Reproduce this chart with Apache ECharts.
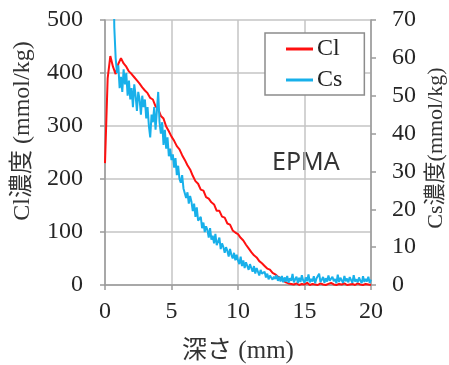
<!DOCTYPE html>
<html>
<head>
<meta charset="utf-8">
<script src="https://cdn.jsdelivr.net/npm/echarts@6/dist/echarts.min.js"></script>
<style>
  html, body { margin: 0; padding: 0; background: #fff; }
  #chart { width: 449px; height: 365px; }
</style>
</head>
<body>
<div id="chart"></div>
<script>
// Depth profiles measured by EPMA: Cl sampled every 0.2 mm, Cs every 0.1 mm.
const clStep = 0.2;
const csStep = 0.1;

// Cl concentration (mmol/kg), depth 0.0 – 20.0 mm
const clValues = [
  230, 390, 432, 412, 398, 417, 428, 418, 412, 403,   // 0.0 – 1.8
  398, 392, 386, 380, 373, 367, 362, 353, 350, 337,   // 2.0 – 3.8
  332, 319, 314, 299, 290, 280, 272, 262, 256, 245,   // 4.0 – 5.8
  236, 226, 218, 206, 196, 191, 180, 178, 166, 163,   // 6.0 – 7.8
  156, 152, 140, 140, 129, 127, 116, 114, 103, 99,    // 8.0 – 9.8
  96, 89, 84, 76, 69, 62, 56, 52, 45, 41,             // 10.0 – 11.8
  36, 31, 29, 23, 20, 16, 13, 8, 5, 3,                // 12.0 – 13.8
  2, 1, 3, 0, 2, 1, 4, 0, 2, 1,                       // 14.0 – 15.8
  0, 3, 1, 0, 2, 4, 1, 0, 2, 1,                       // 16.0 – 17.8
  3, 0, 1, 2, 0, 3, 1, 0, 2, 1,                       // 18.0 – 19.8
  0                                                   // 20.0
];

// Cs concentration (mmol/kg), depth 0.0 – 20.0 mm (null: no reading near the surface)
const csValues = [
  null, null, null, null, null, null, 90, 68, 60, 56,          // 0.0 – 0.9
  58, 52, 55, 51, 57, 53, 56, 50, 54, 49,                      // 1.0 – 1.9
  52, 47, 53, 50, 46, 51, 49, 45, 50, 47,                      // 2.0 – 2.9
  49, 44, 47, 42, 39, 45, 43, 47, 41, 46,                      // 3.0 – 3.9
  51, 43, 40, 43, 37, 41, 36, 39, 34, 36,                      // 4.0 – 4.9
  33, 34.5, 31, 33.5, 29, 31.5, 28, 27, 29, 25.5,              // 5.0 – 5.9
  26, 23, 24.5, 21.5, 23.5, 22, 19.5, 21.5, 18, 20.5,          // 6.0 – 6.9
  17, 16.5, 18, 15, 16.5, 14, 15.5, 14.5, 12.5, 15,            // 7.0 – 7.9
  12, 13, 11, 13.5, 10.5, 11.5, 12.5, 9.5, 11, 10,             // 8.0 – 8.9
  8.5, 10, 9, 7.5, 9.5, 8, 7, 8.5, 6.5, 8,                     // 9.0 – 9.9
  6.5, 5.5, 7.5, 5, 6.5, 4.5, 6, 5.5, 4, 5.5,                  // 10.0 – 10.9
  4.5, 3.5, 5, 3, 4.5, 3.5, 2.5, 4, 3, 2.5,                    // 11.0 – 11.9
  3.5, 2, 3, 1.5, 2.5, 2.8, 1.4, 2.2, 1.6, 2.6,                // 12.0 – 12.9
  1.1, 2.2, 0.9, 2.4, 0.7, 2.0, 0.9, 2.4, 0.6, 1.8,            // 13.0 – 13.9
  1.1, 2.9, 0.7, 1.5, 2.2, 0.5, 1.9, 0.8, 2.6, 1.2,            // 14.0 – 14.9
  0.6, 2.0, 1.0, 2.8, 0.7, 1.6, 0.9, 2.3, 0.5, 1.7,            // 15.0 – 15.9
  1.2, 3.0, 0.8, 1.4, 2.1, 0.6, 1.8, 0.9, 2.5, 1.1,            // 16.0 – 16.9
  0.7, 2.2, 1.0, 1.6, 0.5, 2.7, 0.8, 1.9, 1.2, 0.6,            // 17.0 – 17.9
  2.4, 1.0, 1.7, 0.7, 2.1, 1.3, 0.6, 2.6, 0.9, 1.5,            // 18.0 – 18.9
  0.7, 2.0, 1.1, 0.5, 2.3, 0.8, 1.6, 0.9, 2.2, 0.6,            // 19.0 – 19.9
  1.4                                                          // 20.0
];

const xTicks = { min: 0, max: 20, interval: 5 };
const clTicks = { min: 0, max: 500, interval: 100 };
const csTicks = { min: 0, max: 70, interval: 10 };

const seriesNames = ['Cl', 'Cs'];
const colors = ['#ff1010', '#18b0ea'];

const toPairs = (vals, step) => vals.map((v, i) => [+(i * step).toFixed(2), v]);

const serif = '"Liberation Serif", "Times New Roman", serif';
const jpSerif = '"Liberation Serif", "Noto Sans CJK JP", serif';
const tickLabel = { color: '#262626', fontFamily: serif, fontSize: 24 };
const axisGray = { color: '#9a9a9a', width: 1.5 };

const chart = echarts.init(document.getElementById('chart'), null, { renderer: 'canvas' });
chart.setOption({
  animation: false,
  backgroundColor: '#fff',
  grid: { left: 105, right: 78, top: 20, bottom: 80 },
  legend: {
    data: seriesNames,
    orient: 'vertical',
    left: 265,
    top: 33,
    padding: [4, 22, 3, 21],
    itemGap: 7,
    itemWidth: 27,
    itemHeight: 3,
    icon: 'rect',
    backgroundColor: '#fff',
    borderColor: '#8c8c8c',
    borderWidth: 1.5,
    textStyle: { color: '#222', fontFamily: serif, fontSize: 24, padding: [0, 0, 0, -1] }
  },
  xAxis: {
    type: 'value',
    min: xTicks.min, max: xTicks.max, interval: xTicks.interval,
    axisLine: { show: true, lineStyle: axisGray },
    axisTick: { show: true, inside: false, length: 5, lineStyle: axisGray },
    axisLabel: Object.assign({ margin: 15 }, tickLabel),
    splitLine: { show: true, lineStyle: { color: '#c4c4c4', width: 1.5 } }
  },
  yAxis: [
    {
      type: 'value',
      position: 'left',
      min: clTicks.min, max: clTicks.max, interval: clTicks.interval,
      axisLine: { show: true, lineStyle: axisGray },
      axisTick: { show: true, inside: false, length: 5, lineStyle: axisGray },
      axisLabel: Object.assign({ margin: 22 }, tickLabel),
      splitLine: { show: true, lineStyle: { color: '#c4c4c4', width: 1.5 } }
    },
    {
      type: 'value',
      position: 'right',
      min: csTicks.min, max: csTicks.max, interval: csTicks.interval,
      axisLine: { show: true, lineStyle: axisGray },
      axisTick: { show: true, inside: false, length: 5, lineStyle: axisGray },
      axisLabel: Object.assign({ margin: 21 }, tickLabel),
      splitLine: { show: false }
    }
  ],
  series: [
    {
      name: seriesNames[0],
      type: 'line',
      yAxisIndex: 0,
      data: toPairs(clValues, clStep),
      showSymbol: false,
      color: colors[0],
      lineStyle: { color: colors[0], width: 2 },
      clip: true,
      z: 2
    },
    {
      name: seriesNames[1],
      type: 'line',
      yAxisIndex: 1,
      data: toPairs(csValues, csStep),
      showSymbol: false,
      connectNulls: false,
      color: colors[1],
      lineStyle: { color: colors[1], width: 2 },
      clip: true,
      z: 3
    }
  ],
  graphic: [
    {
      type: 'text',
      left: 272, top: 150,
      style: { text: 'EPMA', fill: '#333', font: '25px "Noto Sans", "Liberation Sans", sans-serif' }
    },
    {
      type: 'text',
      x: 23, y: 131,
      rotation: Math.PI / 2,
      style: {
        text: 'Cl濃度 (mmol/kg)', fill: '#333',
        font: '24px ' + jpSerif, align: 'center', verticalAlign: 'middle'
      }
    },
    {
      type: 'text',
      x: 436, y: 148,
      rotation: Math.PI / 2,
      style: {
        text: 'Cs濃度(mmol/kg)', fill: '#333',
        font: '22px ' + jpSerif, align: 'center', verticalAlign: 'middle'
      }
    },
    {
      type: 'text',
      x: 238, y: 351,
      style: {
        text: '深さ (mm)', fill: '#333',
        font: '25px ' + jpSerif, align: 'center', verticalAlign: 'middle'
      }
    }
  ]
});
</script>
</body>
</html>
